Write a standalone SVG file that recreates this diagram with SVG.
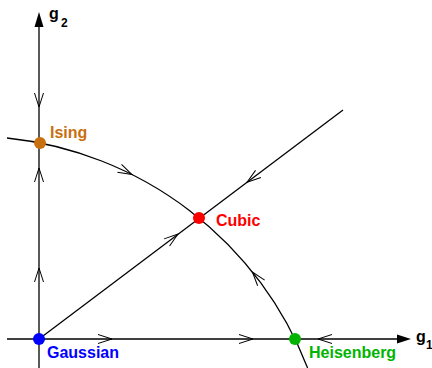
<svg xmlns="http://www.w3.org/2000/svg" xmlns:xlink="http://www.w3.org/1999/xlink" width="432" height="368" viewBox="0 0 432 368">
  <style>
    .ln { fill: none; stroke: #000; stroke-width: 1.3; }
    .ch { fill: none; stroke: #000; stroke-width: 1; }
    .lbl { font-family: "Liberation Sans", Arial, sans-serif; font-weight: bold; font-size: 16px; }
    .sub { font-family: "Liberation Sans", Arial, sans-serif; font-weight: bold; font-size: 12px; }
  </style>
  <defs>
    <path id="chev" d="M -14 -4.5 L 0 0 L -14 4.5"/>
  </defs>
  <rect width="432" height="368" fill="#fff"/>
  <g id="axes">
    <line class="ln" x1="7" y1="339" x2="400" y2="339"/>
    <polygon points="397,334.5 411,339 397,343.5" fill="#000"/>
    <line class="ln" x1="39" y1="368" x2="39" y2="24"/>
    <polygon points="34.5,27 39,12 43.5,27" fill="#000"/>
    <text class="lbl" x="416" y="342">g</text>
    <text class="sub" x="426" y="349">1</text>
    <text class="lbl" x="49" y="19">g</text>
    <text class="sub" x="61" y="27">2</text>
  </g>
  <g id="connectors">
    <path class="ln" d="M 7 138 A 362.6 362.6 0 0 1 307.6 368"/>
    <line class="ln" x1="39" y1="339" x2="343" y2="110"/>
    <g class="ch">
      <use xlink:href="#chev" transform="translate(39,107) rotate(90)"/>
      <use xlink:href="#chev" transform="translate(39,168) rotate(-90)"/>
      <use xlink:href="#chev" transform="translate(39,268) rotate(-90)"/>
      <use xlink:href="#chev" transform="translate(112,339)"/>
      <use xlink:href="#chev" transform="translate(253,339)"/>
      <use xlink:href="#chev" transform="translate(318,339) rotate(180)"/>
      <use xlink:href="#chev" transform="translate(132,174.6) rotate(26.6)"/>
      <use xlink:href="#chev" transform="translate(252.4,272) rotate(-128.7)"/>
      <use xlink:href="#chev" transform="translate(178,234) rotate(-37.1)"/>
      <use xlink:href="#chev" transform="translate(247,182.3) rotate(143.4)"/>
    </g>
  </g>
  <g id="gaussian">
    <circle cx="39" cy="339" r="6" fill="#0000ff"/>
    <text class="lbl" x="47" y="358" fill="#0000ff">Gaussian</text>
  </g>
  <g id="ising">
    <circle cx="40" cy="143" r="6" fill="#c87010"/>
    <text class="lbl" x="50" y="138" fill="#c87010">Ising</text>
  </g>
  <g id="cubic">
    <circle cx="199" cy="218" r="6" fill="#ff0000"/>
    <text class="lbl" x="216" y="226" fill="#ff0000">Cubic</text>
  </g>
  <g id="heisenberg">
    <circle cx="295" cy="339" r="6" fill="#00b400"/>
    <text class="lbl" x="309" y="358" fill="#00b400">Heisenberg</text>
  </g>
</svg>
